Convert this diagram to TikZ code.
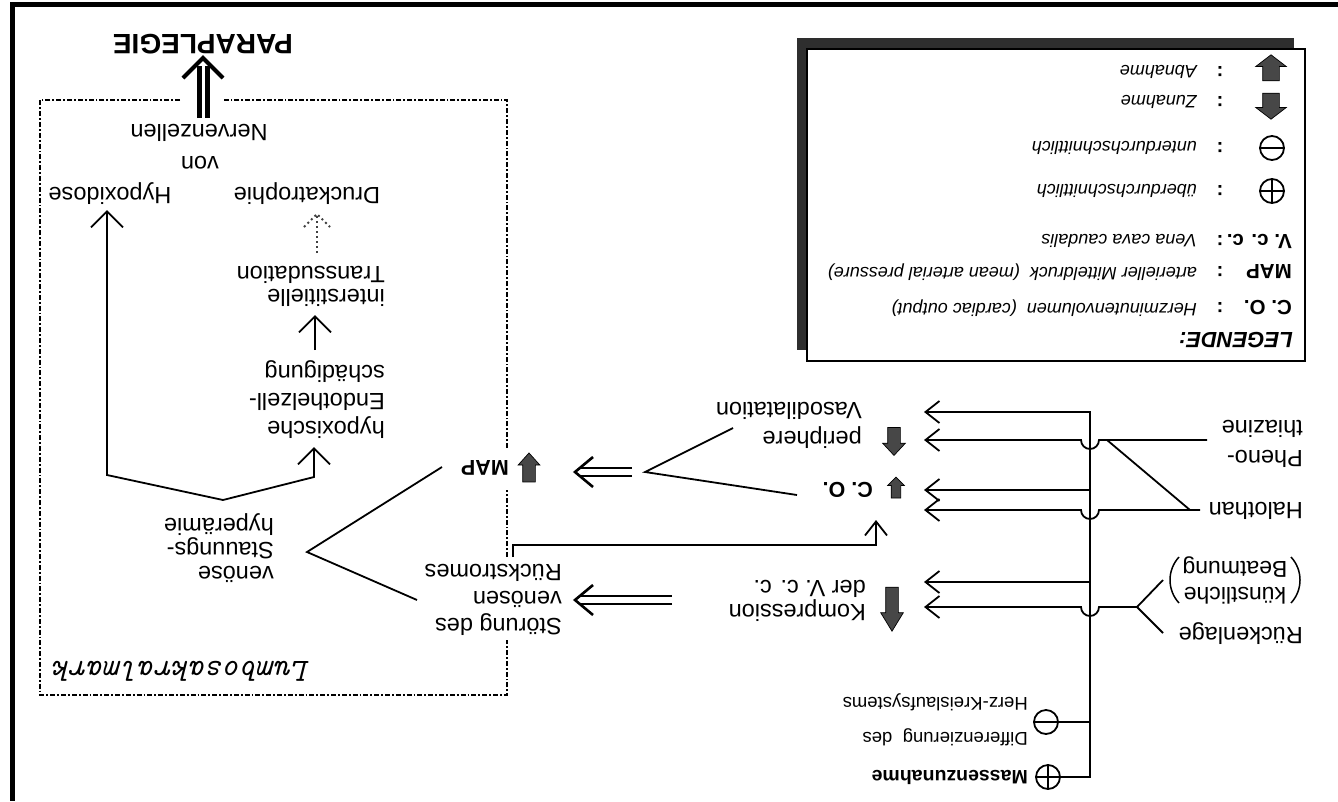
\documentclass[tikz,border=0pt]{standalone}
\usepackage{fontspec}
\setmainfont{Liberation Sans}
\usetikzlibrary{arrows.meta,shapes.arrows,calc}
\tikzset{
  txt/.style={rotate=180,inner sep=0pt,align=left,font=\fontsize{23.5}{#1}\selectfont},
  txt/.default=26,
  sm/.style={rotate=180,inner sep=0pt,align=left,font=\fontsize{18.5}{#1}\selectfont},
  sm/.default=35,
  lab/.style={rotate=180,inner sep=0pt,font=\fontsize{21.5}{24}\selectfont\bfseries},
  leg/.style={rotate=180,inner sep=0pt,anchor=west,font=\fontsize{18}{20}\selectfont\itshape},
  legl/.style={rotate=180,inner sep=0pt,anchor=west,font=\fontsize{20.5}{22}\selectfont\bfseries},
  col/.style={rotate=180,inner sep=0pt,font=\fontsize{20}{22}\selectfont\bfseries},
  conn/.style={line width=1.8pt,line join=miter},
  arr/.style={conn,-{Straight Barb[length=14pt,width=22pt]}},
  barr/.style={conn,-{Straight Barb[length=16pt,width=32pt]}},
  bbarr/.style={conn,{Straight Barb[length=16pt,width=32pt]}-{Straight Barb[length=16pt,width=32pt]}},
  dsh/.style={double,double distance=#1,line width=2.6pt},
  chev/.style={line width=2.6pt,line join=miter},
  blk/.style={single arrow,draw=black,fill=black!72,line width=0.7pt,inner xsep=0pt,single arrow head indent=0pt},
  pm/.style={circle,draw,line width=1.8pt,minimum size=24pt,inner sep=0pt},
  pmbar/.style={line width=1.8pt},
  paren/.style={line width=1.5pt},
  dd/.style={line width=2.5pt,dash pattern=on 5pt off 2pt on 1.8pt off 2pt},
  dotl/.style={line width=1.8pt,black!75,dash pattern=on 2pt off 3pt},
}
\begin{document}
\begin{tikzpicture}[x=1pt,y=-1pt]
\useasboundingbox (0,0) rectangle (1338,801);
\fill[white] (0,0) rectangle (1338,801);
% outer frame
\coordinate (frTR) at (1338,4.5); \coordinate (frTL) at (12,4.5); \coordinate (frBL) at (12,801);
\draw[line width=5pt] (frTR) -- (frTL) -- (frBL);

% ---------------- legend ----------------
\fill[black!82] (797,38) rectangle (1294,350);
\draw[fill=white,line width=1.4pt] (807,49) rectangle (1305,361);
\node[blk,rotate=90,minimum height=26pt,inner ysep=8pt,single arrow head extend=7pt,single arrow tip angle=105] (lgAb) at (1271,71) {};
\node[blk,rotate=-90,minimum height=26pt,inner ysep=8pt,single arrow head extend=7pt,single arrow tip angle=105] (lgZu) at (1271,103) {};
\node[pm] (lgMi) at (1272,148) {};
\draw[pmbar] (lgMi.west) -- (lgMi.east);
\node[pm] (lgPl) at (1272,191) {};
\draw[pmbar] (lgPl.west) -- (lgPl.east) (lgPl.north) -- (lgPl.south);
\node[legl] (lgV) at (1292,241) {V. c. c.};
\node[legl] (lgM) at (1292,272) {MAP};
\node[legl] (lgC) at (1292,308) {C. O.};
\node[col] (c1) at (1220,72) {:};
\node[col] (c2) at (1220,102) {:};
\node[col] (c3) at (1220,148) {:};
\node[col] (c4) at (1220,191) {:};
\node[col] (c5) at (1220,241) {:};
\node[col] (c6) at (1220,272) {:};
\node[col] (c7) at (1220,308) {:};
\node[leg] (t1) at (1197,72) {Abnahme};
\node[leg] (t2) at (1197,102) {Zunahme};
\node[leg] (t3) at (1197,148) {unterdurchschnittlich};
\node[leg] (t4) at (1197,191) {überdurchschnittlich};
\node[leg] (t5) at (1197,241) {Vena cava caudalis};
\node[leg] (t6) at (1197,272) {arterieller Mitteldruck~~(mean arterial pressure)};
\node[leg] (t7) at (1197,308) {Herzminutenvolumen~~(cardiac output)};
\node[rotate=180,inner sep=0pt,anchor=west,font=\fontsize{22}{24}\selectfont\bfseries\itshape] (lgT) at (1293,340) {LEGENDE:};

% ---------------- Lumbosakralmark box ----------------
\coordinate (bxA) at (180,100); \coordinate (bxTL) at (40,100); \coordinate (bxBL) at (40,695);
\coordinate (bxBR) at (507,695); \coordinate (bxR1) at (507,640); \coordinate (bxR2) at (507,557);
\coordinate (bxR3) at (507,490); \coordinate (bxR4) at (507,448); \coordinate (bxTR) at (507,100);
\coordinate (bxB) at (222,100);
\draw[dd] (bxA) -- (bxTL) -- (bxBL) -- (bxBR) -- (bxR1);
\draw[dd] (bxR2) -- (bxR3);
\draw[dd] (bxR4) -- (bxTR) -- (bxB);
\node[rotate=180,inner sep=0pt,anchor=west,font=\fontsize{32.5}{34}\selectfont\ttfamily\itshape] (lum) at (310,671) {Lumbosakralmark};

% ---------------- text nodes ----------------
\node[rotate=180,inner sep=0pt,font=\fontsize{28}{30}\selectfont\bfseries] (para) at (203,44) {PARAPLEGIE};
\node[txt] (nerv) at (199,133) {Nervenzellen};
\node[txt] (von) at (200,163) {von};
\node[txt] (hyp) at (110,194) {Hypoxidose};
\node[txt] (druck) at (307,194) {Druckatrophie};
\node[txt=23,anchor=west] (trans) at (385,286) {interstitielle\\Transsudation};
\node[txt=28,anchor=west] (endo) at (385,400) {hypoxische\\Endothelzell-\\schädigung};
\node[txt=24,anchor=west] (stau) at (274,548) {venöse\\Stauungs-\\hyperämie};
\node[lab] (map) at (485,468) {MAP};
\node[blk,rotate=90,minimum height=29pt,inner ysep=6pt,single arrow head extend=4.5pt,single arrow tip angle=84] (mapA) at (529,471) {};
\node[txt=27,anchor=west] (stoer) at (562,600) {Störung des\\venösen\\Rückstromes};
\node[txt=24,anchor=west] (komp) at (866,601) {Kompression\\der V. c. c.};
\node[blk,rotate=-90,minimum height=44pt,inner ysep=6pt,single arrow head extend=5pt,single arrow tip angle=63] (kompA) at (892,604) {};
\node[txt=29,anchor=west] (vaso) at (862,425) {periphere\\Vasodilatation};
\node[blk,rotate=-90,minimum height=28pt,inner ysep=6pt,single arrow head extend=5pt,single arrow tip angle=86] (vasoA) at (894,438) {};
\node[lab,anchor=west] (co) at (873,490) {C. O.};
\node[blk,rotate=90,minimum height=21pt,inner ysep=4.5pt,single arrow head extend=3.5pt,single arrow tip angle=90] (coA) at (896,490) {};
\node[txt,anchor=west] (halo) at (1303,511) {Halothan};
\node[txt=30,anchor=west] (pheno) at (1303,444) {Pheno-\\thiazine};
\node[rotate=180,inner sep=0pt,align=center,font=\fontsize{23}{26}\selectfont] (kb) at (1235,580) {künstliche\\Beatmung};
\coordinate (pLa) at (1179,557); \coordinate (pLb) at (1179,603);
\coordinate (pRa) at (1291,557); \coordinate (pRb) at (1291,603);
\draw[paren] (pLa) .. controls (1167,570) and (1167,590) .. (pLb);
\draw[paren] (pRa) .. controls (1303,570) and (1303,590) .. (pRb);
\node[txt,anchor=west] (rueck) at (1303,634) {Rückenlage};
\node[sm,anchor=west] (diff) at (1028,720) {Differenzierung~~des\\Herz-Kreislaufsystems};
\node[rotate=180,inner sep=0pt,anchor=west,font=\fontsize{19.5}{22}\selectfont\bfseries] (mass) at (1028,777) {Massenzunahme};
\node[pm] (minus) at (1046,722) {};
\draw[pmbar] (minus.west) -- (minus.east);
\node[pm] (plus) at (1048,777) {};
\draw[pmbar] (plus.west) -- (plus.east) (plus.north) -- (plus.south);

% ---------------- coordinates ----------------
\coordinate (bbT) at (1090,412); \coordinate (bbB) at (1090,777);
\coordinate (bbCO) at (1090,490); \coordinate (bbK) at (1090,582); \coordinate (bbM) at (1090,722);
\coordinate (tVa) at (924,412); \coordinate (tPh) at (924,440); \coordinate (tCO1) at (924,490);
\coordinate (tCO2) at (924,510); \coordinate (tK1) at (924,582); \coordinate (tK2) at (924,607);
\coordinate (phS) at (1207,440); \coordinate (phH) at (1099,440); \coordinate (phJ) at (1107,440);
\coordinate (haS) at (1200,510); \coordinate (haH) at (1099,510); \coordinate (haD) at (1190,510);
\coordinate (rkV) at (1137,607); \coordinate (rkH) at (1099,607);
\coordinate (kbE) at (1163,580); \coordinate (rkE) at (1163,633);

% backbone and arrows to the effects
\draw[arr] (plus) -- (bbB) -- (bbT) -- (tVa);
\draw[arr] (phS) -- (phH) arc[start angle=0,end angle=180,radius=9] -- (tPh);
\draw[conn] (haD) -- (phJ);
\draw[arr] (bbCO) -- (tCO1);
\draw[arr] (haS) -- (haH) arc[start angle=0,end angle=180,radius=9] -- (tCO2);
\draw[arr] (bbK) -- (tK1);
\draw[conn] (kbE) -- (rkV) -- (rkE);
\draw[arr] (rkV) -- (rkH) arc[start angle=0,end angle=180,radius=9] -- (tK2);
\draw[conn] (bbM) -- (minus);

% Stoerung -> C.O.
\coordinate (stT) at (513,557); \coordinate (stC) at (513,545); \coordinate (coC) at (876,545); \coordinate (tCO3) at (876,520);
\draw[arr] (stT) -- (stC) -- (coC) -- (tCO3);

% fork to MAP and double arrow
\coordinate (vaE) at (733,428); \coordinate (mapF) at (645,472); \coordinate (coE) at (797,495);
\draw[conn] (vaE) -- (mapF) -- (coE);
\coordinate (mdT) at (632,472); \coordinate (mdS) at (581,472); \coordinate (mdTip) at (575,472);
\draw[dsh=5.4pt] (mdT) -- (mdS);
\draw[chev] ($(mdTip)+(18,-15)$) -- (mdTip) -- ($(mdTip)+(18,15)$);
% Kompression => Stoerung
\coordinate (sdT) at (672,600); \coordinate (sdS) at (581,600); \coordinate (sdTip) at (575,600);
\draw[dsh=5.4pt] (sdT) -- (sdS);
\draw[chev] ($(sdTip)+(18,-15)$) -- (sdTip) -- ($(sdTip)+(18,15)$);

% fork to venoese Stauungshyperaemie
\coordinate (mapE) at (442,467); \coordinate (stF) at (307,552); \coordinate (stE) at (417,600);
\draw[conn] (mapE) -- (stF) -- (stE);

% branch to Hypoxidose and hypoxische Endothelzellschaedigung
\coordinate (tHyp) at (107,210); \coordinate (hL) at (107,475); \coordinate (hF) at (223,500);
\coordinate (hR) at (314,477); \coordinate (tEnd) at (314,447);
\draw[bbarr] (tHyp) -- (hL) -- (hF) -- (hR) -- (tEnd);
\coordinate (eS) at (315,350); \coordinate (tInt) at (315,315);
\draw[barr] (eS) -- (tInt);
\coordinate (dS) at (317,253); \coordinate (tDr) at (317,214);
\draw[dotl] (dS) -- (tDr);
\draw[dotl] ($(tDr)+(-13,13)$) -- (tDr) -- ($(tDr)+(13,13)$);

% => PARAPLEGIE
\coordinate (pdT) at (203,118); \coordinate (pdS) at (203,66); \coordinate (pdTip) at (203,58);
\draw[double,double distance=3pt,line width=5pt] (pdT) -- (pdS);
\draw[line width=4pt,line join=miter] ($(pdTip)+(-20,20)$) -- (pdTip) -- ($(pdTip)+(20,20)$);
\end{tikzpicture}
\end{document}
